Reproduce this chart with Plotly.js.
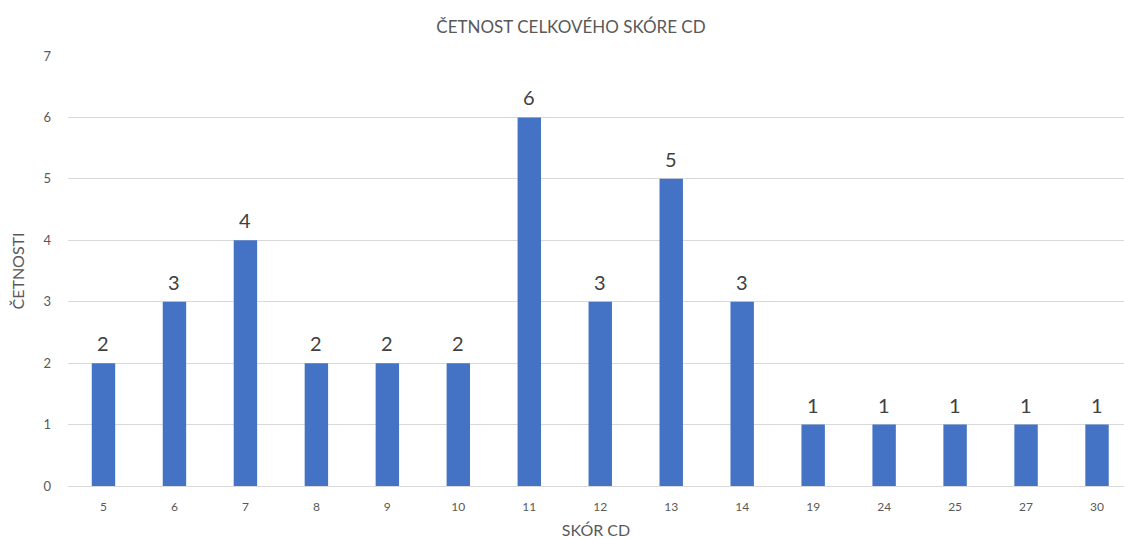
<!DOCTYPE html>
<html>
<head>
<meta charset="utf-8">
<script src="https://cdn.plot.ly/plotly-3.0.1.min.js"></script>
<style>html,body{margin:0;padding:0;overflow:hidden;background:#fff;}#chart{width:1124px;height:539px;}</style>
</head>
<body>
<div id="chart"></div>
<script>
const categories = ["5","6","7","8","9","10","11","12","13","14","19","24","25","27","30"];
const counts = [2,3,4,2,2,2,6,3,5,3,1,1,1,1,1];
const chartTitle = "ČETNOST CELKOVÉHO SKÓRE CD";
const xTitle = "SKÓR CD";
const yTitle = "ČETNOSTI";

const FONT = "Lato, 'Open Sans', sans-serif";

// category axis: annotation x given as category index
const labels = categories.map((c, i) => ({
  x: i, y: counts[i], xref: 'x', yref: 'y',
  text: String(counts[i]), showarrow: false,
  yanchor: 'bottom', yshift: 6,
  font: {family: FONT, size: 20, color: '#404040'}
}));

Plotly.newPlot('chart', [{
  type: 'bar',
  x: categories,
  y: counts,
  marker: {color: '#4472C4'},
  hoverinfo: 'x+y'
}], {
  width: 1124,
  height: 539,
  margin: {l: 68, r: 0, t: 56, b: 53},
  paper_bgcolor: '#ffffff',
  plot_bgcolor: '#ffffff',
  bargap: 0.67,
  showlegend: false,
  annotations: labels,
  font: {family: FONT, color: '#595959'},
  title: {text: chartTitle, x: 0.508, xanchor: 'center', y: 0.95, yanchor: 'middle', yref: 'container',
          font: {family: FONT, size: 17, color: '#595959'}},
  xaxis: {
    type: 'category',
    range: [-0.5, 14.38],
    showgrid: false,
    showline: true,
    linecolor: '#d9d9d9',
    linewidth: 1,
    ticks: '',
    tickfont: {family: FONT, size: 12, color: '#595959'},
    ticklabelstandoff: 10,
    title: {text: xTitle, font: {family: FONT, size: 16, color: '#595959'}, standoff: 11}
  },
  yaxis: {
    range: [0, 7],
    dtick: 1,
    showgrid: true,
    gridcolor: '#d9d9d9',
    gridwidth: 1,
    zeroline: false,
    showline: false,
    ticks: '',
    tickfont: {family: FONT, size: 13, color: '#595959'},
    ticklabelstandoff: 16,
    title: {text: yTitle, font: {family: FONT, size: 16, color: '#595959'}, standoff: 14}
  }
}, {displayModeBar: false, staticPlot: true});
</script>
</body>
</html>
